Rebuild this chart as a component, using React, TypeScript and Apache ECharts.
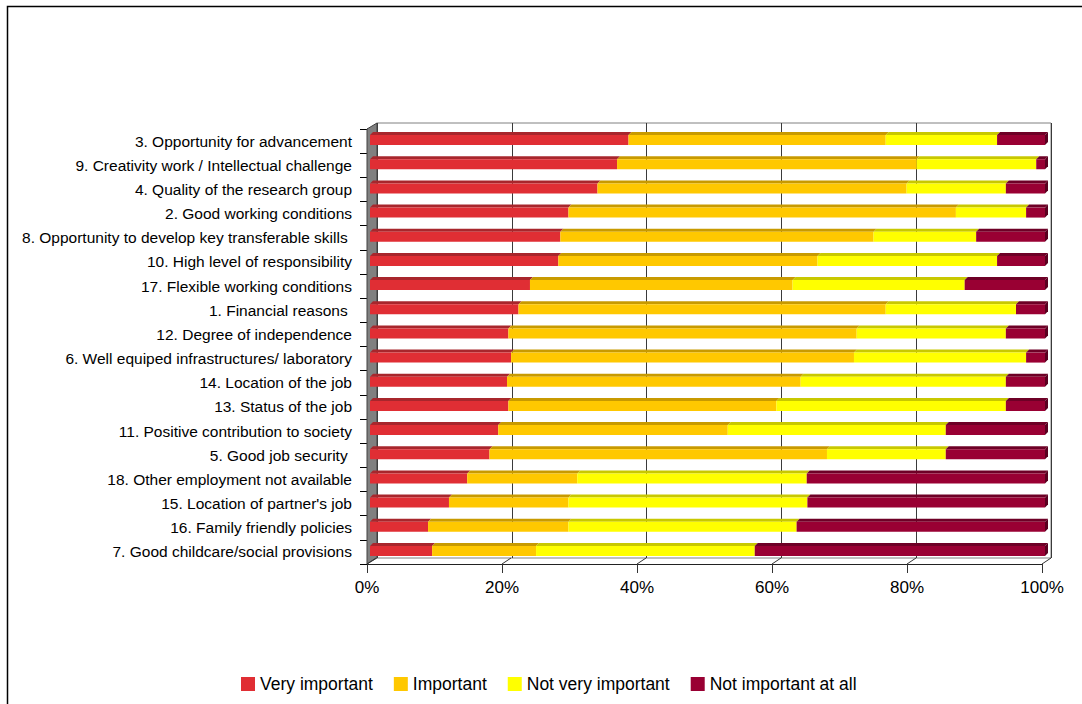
import React, { useEffect, useRef } from "react";
import * as echarts from "echarts";

// Motivation factors, listed top to bottom
const categories: string[] = [
  "3. Opportunity for advancement",
  "9. Creativity work / Intellectual challenge",
  "4. Quality of the research group",
  "2. Good working conditions",
  "8. Opportunity to develop key transferable skills ",
  "10. High level of responsibility",
  "17. Flexible working conditions",
  "1. Financial reasons ",
  "12. Degree of independence",
  "6. Well equiped infrastructures/ laboratory",
  "14. Location of the job",
  "13. Status of the job",
  "11. Positive contribution to society",
  "5. Good job security ",
  "18. Other employment not available",
  "15. Location of partner's job",
  "16. Family friendly policies",
  "7. Good childcare/social provisions",
];

// Share of answers (%) per category
const veryImportant: number[] = [38.3, 36.6, 33.7, 29.4, 28.2, 27.9, 23.7, 22.0, 20.5, 20.9, 20.3, 20.5, 19.0, 17.7, 14.4, 11.7, 8.6, 9.2];
const important: number[] = [38.1, 44.4, 45.8, 57.4, 46.4, 38.4, 38.9, 54.4, 51.6, 50.8, 43.5, 39.7, 34.0, 50.0, 16.3, 17.7, 20.8, 15.4];
const notVeryImportant: number[] = [16.5, 17.7, 14.7, 10.4, 15.2, 26.6, 25.5, 19.3, 22.1, 25.5, 30.4, 34.0, 32.3, 17.6, 34.0, 35.4, 33.8, 32.4];
const notImportantAtAll: number[] = [7.1, 1.3, 5.8, 2.8, 10.2, 7.1, 11.9, 4.3, 5.8, 2.8, 5.8, 5.8, 14.7, 14.7, 35.3, 35.2, 36.8, 43.0];

const seriesNames: string[] = ["Very important", "Important", "Not very important", "Not important at all"];
const percentTicks: number[] = [0, 20, 40, 60, 80, 100];

const FONT = "'Liberation Sans', Arial, sans-serif";

const faceColors = ["#E02E34", "#FFC800", "#FFFF00", "#990033"];
const topColors = ["#A8262C", "#C89A00", "#C8C800", "#6E0026"];
const sideColors = ["#8A1E24", "#A07A00", "#A0A000", "#5A0020"];

export default function App() {
  const ref = useRef<HTMLDivElement>(null);

  useEffect(() => {
    if (!ref.current) return;
    const chart = echarts.init(ref.current, undefined, { renderer: "svg" });

    const segments = [veryImportant, important, notVeryImportant, notImportantAtAll];
    // Running start/end of each segment within a 100% bar
    const segData: number[][][] = segments.map(() => []);
    categories.forEach((_, i) => {
      let acc = 0;
      segments.forEach((arr, s) => {
        const start = acc;
        acc += arr[i];
        segData[s].push([start, acc, i]);
      });
    });

    const depth = 3;
    const faceH = 10;

    const makeRender = (s: number) => (params: any, api: any) => {
      const a = api.coord([api.value(0), api.value(2)]);
      const b = api.coord([api.value(1), api.value(2)]);
      const x0 = a[0] + 3;
      const x1 = b[0] + 3;
      const y = a[1] - 6;
      const children: any[] = [
        {
          type: "polygon",
          shape: { points: [[x0, y], [x0 + depth, y - depth], [x1 + depth, y - depth], [x1, y]] },
          style: { fill: topColors[s] },
        },
        {
          type: "rect",
          shape: { x: x0, y, width: x1 - x0, height: faceH },
          style: { fill: faceColors[s] },
        },
      ];
      if (s === segments.length - 1) {
        children.push({
          type: "polygon",
          shape: { points: [[x1, y], [x1 + depth, y - depth], [x1 + depth, y - depth + faceH], [x1, y + faceH]] },
          style: { fill: sideColors[s] },
        });
      }
      return { type: "group", children };
    };

    const barSeries = seriesNames.map((name, s) => ({
      name,
      type: "custom",
      xAxisIndex: 0,
      yAxisIndex: 0,
      z: 5,
      itemStyle: { color: faceColors[s] },
      encode: { x: [0, 1], y: 2 },
      renderItem: makeRender(s),
      data: segData[s],
    }));

    // Diagonal floor edges at each percentage tick
    const floorSeries = {
      type: "custom",
      xAxisIndex: 0,
      yAxisIndex: 0,
      z: 4,
      silent: true,
      encode: { x: 0 },
      renderItem: (params: any, api: any) => {
        const p = api.coord([api.value(0), 0]);
        const bottom = params.coordSys.y + params.coordSys.height;
        return {
          type: "line",
          shape: { x1: p[0], y1: bottom, x2: p[0] + 9, y2: bottom - 6 },
          style: { stroke: "#333", lineWidth: 1 },
        };
      },
      data: percentTicks.map((v) => [v]),
    };

    chart.setOption({
      animation: false,
      backgroundColor: "#ffffff",
      textStyle: { fontFamily: FONT },
      legend: {
        bottom: 6,
        left: 236,
        icon: "rect",
        itemWidth: 14,
        itemHeight: 14,
        itemGap: 21,
        textStyle: { fontSize: 17.5, color: "#000", fontFamily: FONT },
        data: seriesNames,
      },
      grid: [
        { left: 367, right: 40, top: 129, bottom: 140 },
        { left: 377, right: 31, top: 123, bottom: 146, show: true, borderColor: "#808080", borderWidth: 1, backgroundColor: "transparent" },
      ],
      xAxis: [
        {
          type: "value",
          gridIndex: 0,
          min: 0,
          max: 100,
          interval: 20,
          axisLine: { show: true, lineStyle: { color: "#222", width: 1 } },
          axisTick: { show: true, length: 9, lineStyle: { color: "#333" } },
          axisLabel: { formatter: "{value}%", fontSize: 17, color: "#000", margin: 15, fontFamily: FONT },
          splitLine: { show: false },
        },
        {
          type: "value",
          gridIndex: 1,
          min: 0,
          max: 100,
          interval: 20,
          axisLine: { show: false },
          axisTick: { show: false },
          axisLabel: { show: false },
          splitLine: { show: true, lineStyle: { color: "#3a3a3a", width: 1 } },
        },
      ],
      yAxis: [
        {
          type: "category",
          gridIndex: 0,
          inverse: true,
          data: categories,
          axisLine: { show: true, lineStyle: { color: "#000", width: 1 } },
          axisTick: { show: true, length: 7, lineStyle: { color: "#000" } },
          axisLabel: { fontSize: 15.5, color: "#000", margin: 15, fontFamily: FONT },
        },
        {
          type: "category",
          gridIndex: 1,
          inverse: true,
          data: categories,
          show: false,
        },
      ],
      graphic: [
        {
          type: "rect",
          z: 0,
          shape: { x: 7.5, y: 6.5, width: 1100, height: 720 },
          style: { fill: "none", stroke: "#000", lineWidth: 1.5 },
        },
        {
          type: "polygon",
          z: 1,
          shape: { points: [[367, 129], [377, 123], [377, 558], [367, 564]] },
          style: { fill: "#808080", stroke: "#404040", lineWidth: 1 },
        },
      ],
      series: [...barSeries, floorSeries],
    });

    return () => chart.dispose();
  }, []);

  return (
    <div
      ref={ref}
      style={{ position: "absolute", left: 0, top: 0, width: 1082, height: 704, background: "#fff" }}
    />
  );
}
